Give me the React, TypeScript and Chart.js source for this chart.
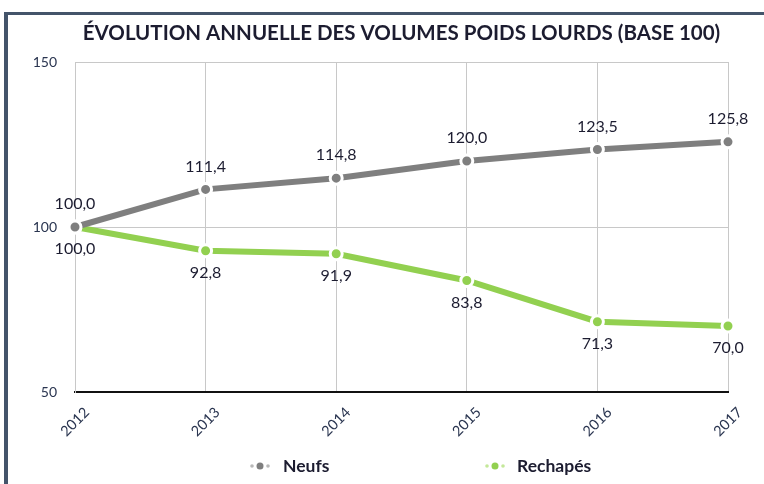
import React, { useEffect, useRef } from 'react';
import { Chart, registerables } from 'chart.js';

Chart.register(...registerables);

const years = ['2012', '2013', '2014', '2015', '2016', '2017'];
const neufs = [100.0, 111.4, 114.8, 120.0, 123.5, 125.8];
const rechapes = [100.0, 92.8, 91.9, 83.8, 71.3, 70.0];
const yTicks = [50, 100, 150];
const seriesNames = ['Neufs', 'Rechapés'];
const titleText = 'ÉVOLUTION ANNUELLE DES VOLUMES POIDS LOURDS (BASE 100)';

const GRAY = '#7f7f7f';
const GREEN = '#92d050';
const TEXT = '#1c1c30';
const FONT = 'Lato, "Open Sans", sans-serif';

const fmt = (v: number) => v.toFixed(1).replace('.', ',');

const overlayPlugin = {
  id: 'overlay',
  beforeDraw(chart: any) {
    const ctx = chart.ctx;
    ctx.save();
    ctx.fillStyle = '#44546a';
    ctx.fillRect(4, 12, 4, chart.height - 12);
    ctx.fillRect(4, 12, chart.width - 4, 3);
    ctx.restore();
  },
  afterDraw(chart: any) {
    const ctx = chart.ctx;
    const area = chart.chartArea;
    ctx.save();
    // title
    ctx.fillStyle = TEXT;
    ctx.font = `bold 20.5px ${FONT}`;
    ctx.textAlign = 'center';
    ctx.textBaseline = 'middle';
    ctx.fillText(titleText, (area.left + area.right) / 2, 33);

    // x labels rotated
    const xs = chart.scales.x;
    ctx.font = `14.5px ${FONT}`;
    ctx.fillStyle = '#2a3550';
    years.forEach((y, i) => {
      const px = xs.getPixelForValue(i);
      ctx.save();
      ctx.translate(px, 422);
      ctx.rotate(-Math.PI / 4);
      ctx.textAlign = 'center';
      ctx.textBaseline = 'middle';
      ctx.fillText(y, 0, 0);
      ctx.restore();
    });

    // data labels
    ctx.font = `16px ${FONT}`;
    ctx.fillStyle = TEXT;
    ctx.textAlign = 'center';
    ctx.textBaseline = 'middle';
    const m0 = chart.getDatasetMeta(0).data;
    const m1 = chart.getDatasetMeta(1).data;
    neufs.forEach((v, i) => {
      const p = m0[i];
      ctx.fillText(fmt(v), p.x, p.y - 23);
    });
    rechapes.forEach((v, i) => {
      const p = m1[i];
      ctx.fillText(fmt(v), p.x, p.y + 22);
    });

    // legend
    const legendY = 466;
    const items = [
      { name: seriesNames[0], color: GRAY, light: '#b8b8b8', cx: 260, tx: 283 },
      { name: seriesNames[1], color: GREEN, light: '#c4e89a', cx: 495, tx: 517 },
    ];
    items.forEach((it) => {
      ctx.fillStyle = it.light;
      [-8, 8].forEach((d) => {
        ctx.beginPath();
        ctx.arc(it.cx + d, legendY, 1.8, 0, Math.PI * 2);
        ctx.fill();
      });
      ctx.fillStyle = it.color;
      ctx.beginPath();
      ctx.arc(it.cx, legendY, 3.5, 0, Math.PI * 2);
      ctx.fill();
      ctx.fillStyle = TEXT;
      ctx.font = `bold 17.5px ${FONT}`;
      ctx.textAlign = 'left';
      ctx.textBaseline = 'middle';
      ctx.fillText(it.name, it.tx, legendY);
    });
    ctx.restore();
  },
};

export default function App() {
  const ref = useRef<HTMLCanvasElement | null>(null);
  useEffect(() => {
    if (!ref.current) return;
    const chart = new Chart(ref.current, {
      type: 'line',
      data: {
        labels: years,
        datasets: [
          {
            label: seriesNames[0],
            data: neufs,
            borderColor: GRAY,
            backgroundColor: GRAY,
            borderWidth: 6,
            pointRadius: 6,
            pointBackgroundColor: GRAY,
            pointBorderColor: '#ffffff',
            pointBorderWidth: 3,
            tension: 0,
            clip: false as any,
          },
          {
            label: seriesNames[1],
            data: rechapes,
            borderColor: GREEN,
            backgroundColor: GREEN,
            borderWidth: 6,
            pointRadius: 6,
            pointBackgroundColor: GREEN,
            pointBorderColor: '#ffffff',
            pointBorderWidth: 3,
            tension: 0,
            clip: false as any,
          },
        ],
      },
      options: {
        animation: false,
        responsive: true,
        maintainAspectRatio: false,
        layout: { padding: { left: 0, right: 36, top: 62, bottom: 0 } },
        plugins: {
          legend: { display: false },
          title: { display: false },
          tooltip: { enabled: false },
        },
        scales: {
          x: {
            type: 'category',
            offset: false,
            ticks: { display: false },
            grid: { color: '#c8c8c8', lineWidth: 1, drawTicks: false },
            border: { color: '#111111', width: 2 },
            afterFit: (s: any) => {
              s.height = 92;
            },
          },
          y: {
            min: yTicks[0],
            max: yTicks[yTicks.length - 1],
            afterBuildTicks: (s: any) => {
              s.ticks = yTicks.map((v) => ({ value: v }));
            },
            ticks: {
              color: '#2a3550',
              font: { family: FONT, size: 14 },
              padding: 18,
            },
            grid: {
              drawTicks: false,
              color: (c: any) => (c.tick && c.tick.value === 50 ? 'rgba(0,0,0,0)' : '#c8c8c8'),
            },
            border: { color: '#c8c8c8', width: 1 },
            afterFit: (s: any) => {
              s.width = 75;
            },
          },
        },
      },
      plugins: [overlayPlugin],
    });
    return () => chart.destroy();
  }, []);
  return (
    <div style={{ position: 'absolute', left: 0, top: 0, width: 764, height: 484, background: '#fff' }}>
      <canvas ref={ref} />
    </div>
  );
}
